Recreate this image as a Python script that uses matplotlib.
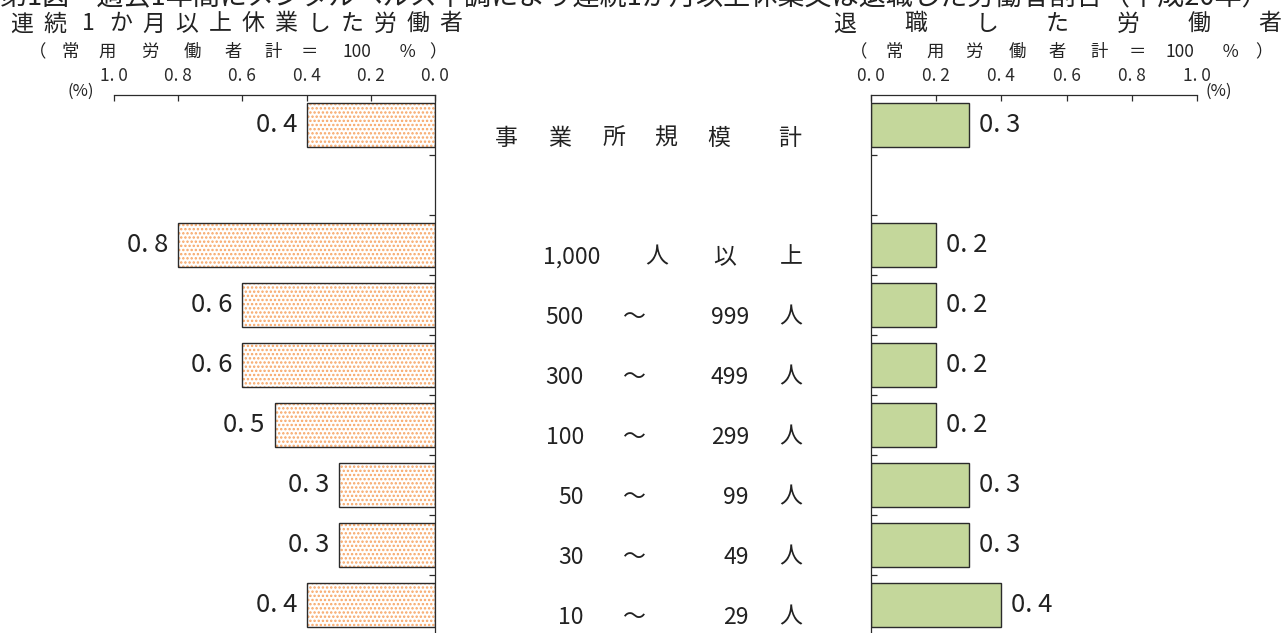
import matplotlib
matplotlib.use('Agg')
import matplotlib.pyplot as plt
from matplotlib.transforms import blended_transform_factory

plt.rcParams['font.family'] = ['Noto Sans CJK JP', 'DejaVu Sans']
plt.rcParams['hatch.linewidth'] = 1.15

W, H = 1287, 633

title = '第1図　過去1年間にメンタルヘルス不調により連続1か月以上休業又は退職した労働者割合（平成20年）'
left_head = '連続1か月以上休業した労働者'
right_head = '退職した労働者'
base_note = ['（', '常', '用', '労', '働', '者', '計', '＝', '100', '％', '）']

total_label = '事業所規模計'
size_classes = ['1,000人以上', '500～999人', '300～499人', '100～299人',
                '50～99人', '30～49人', '10～29人']

# % of regular workers
leave_total = 0.4
leave = [0.8, 0.6, 0.6, 0.5, 0.3, 0.3, 0.4]
quit_total = 0.3
quit_ = [0.2, 0.2, 0.2, 0.2, 0.3, 0.3, 0.4]

ticks = [0.0, 0.2, 0.4, 0.6, 0.8, 1.0]

ORANGE = '#F7A565'
GREEN = '#C4D79B'
EDGE = '#2b2b2b'


def px(x):
    return x / W


def py(y):
    return 1 - y / H


def fmt(v):
    return f'{v:.1f}'.replace('.', '. ')


# total on slot 0, one blank slot, then the size classes
slots = [0] + [2 + i for i in range(len(size_classes))]
left_vals = [leave_total] + leave
right_vals = [quit_total] + quit_
nslots = len(size_classes) + 2

fig = plt.figure(figsize=(W / 100, H / 100), dpi=100)

ax_top, ax_bot = 95, 95 + 60 * nslots
axL = fig.add_axes([px(114), py(ax_bot), px(435 - 114), (ax_bot - ax_top) / H])
axR = fig.add_axes([px(871), py(ax_bot), px(1197 - 871), (ax_bot - ax_top) / H])

for ax in (axL, axR):
    ax.set_ylim(nslots - 0.5, -0.5)
    ax.set_xticks(ticks)
    ax.set_xticklabels([fmt(t) for t in ticks], fontsize=12.5, color='#222')
    ax.xaxis.tick_top()
    ax.tick_params(axis='x', direction='in', length=4, width=0.9, pad=7, colors=EDGE)
    ax.set_yticks([s + 0.5 for s in range(nslots - 1)])
    ax.set_yticklabels([])
    ax.tick_params(axis='y', direction='in', length=4, width=0.9, colors=EDGE)
    ax.spines['bottom'].set_visible(False)
    for sp in ax.spines.values():
        sp.set_linewidth(0.9)
        sp.set_color(EDGE)
    ax.set_facecolor('none')

axL.set_xlim(1.0, 0.0)
axL.spines['left'].set_visible(False)
axL.yaxis.tick_right()
axR.set_xlim(0.0, 1.0)
axR.spines['right'].set_visible(False)

# left: dotted orange bars
axL.barh(slots, left_vals, height=0.72, color='white', edgecolor=ORANGE,
         hatch='....', linewidth=0)
axL.barh(slots, left_vals, height=0.72, fill=False, edgecolor=EDGE, linewidth=1.0)
for s, v in zip(slots, left_vals):
    axL.annotate(fmt(v), (v, s), xytext=(-7, 0), textcoords='offset points',
                 ha='right', va='center', fontsize=18.5, color='#222')

# right: green bars
axR.barh(slots, right_vals, height=0.72, color=GREEN, edgecolor=EDGE, linewidth=1.0)
for s, v in zip(slots, right_vals):
    axR.annotate(fmt(v), (v, s), xytext=(7, 0), textcoords='offset points',
                 ha='left', va='center', fontsize=18.5, color='#222')

# headings (the chart title is cut off at the top edge, as in the source)
fig.text(0, py(4), title, ha='left', va='baseline', fontsize=19.5, color='#222')

n = len(left_head)
for i, ch in enumerate(left_head):
    fig.text(px(22 + i * (451 - 22) / (n - 1)), py(24), ch, ha='center', va='center',
             fontsize=16.5, color='#222')
n = len(right_head)
for i, ch in enumerate(right_head):
    fig.text(px(845 + i * (1270 - 845) / (n - 1)), py(24), ch, ha='center', va='center',
             fontsize=16.5, color='#222')

note_l = [38, 70, 107, 150, 192, 233, 273, 309, 357, 407, 438]
note_r = [859, 894, 935, 974, 1017, 1057, 1099, 1137, 1180, 1230, 1264]
for xs in (note_l, note_r):
    for x, tok in zip(xs, base_note):
        fig.text(px(x), py(52), tok, ha='center', va='center', fontsize=12.5, color='#222')

fig.text(px(81), py(91), '(%)', ha='center', va='center', fontsize=12, color='#222')
fig.text(px(1219), py(91), '(%)', ha='center', va='center', fontsize=12, color='#222')

# middle category labels
tr = blended_transform_factory(fig.transFigure, axL.transData)
mid_kw = dict(transform=tr, va='center', fontsize=16.5, color='#222')
for x, ch in zip([506, 560, 614, 666, 719, 790], total_label):
    fig.text(px(x), slots[0] + 0.22, ch, ha='center', **mid_kw)

for s, lab in zip(slots[1:], size_classes):
    y = s + 0.2
    if '～' in lab:
        lo, hi = lab.rstrip('人').split('～')
        fig.text(px(584), y, lo, ha='right', **mid_kw)
        fig.text(px(633), y, '～', ha='center', **mid_kw)
        fig.text(px(749), y, hi, ha='right', **mid_kw)
        fig.text(px(791), y, '人', ha='center', **mid_kw)
    else:
        num = lab.split('人')[0]
        fig.text(px(572), y, num, ha='center', **mid_kw)
        for x, ch in zip([657, 725, 791], lab[len(num):]):
            fig.text(px(x), y, ch, ha='center', **mid_kw)

fig.savefig('out.png', dpi=100)
